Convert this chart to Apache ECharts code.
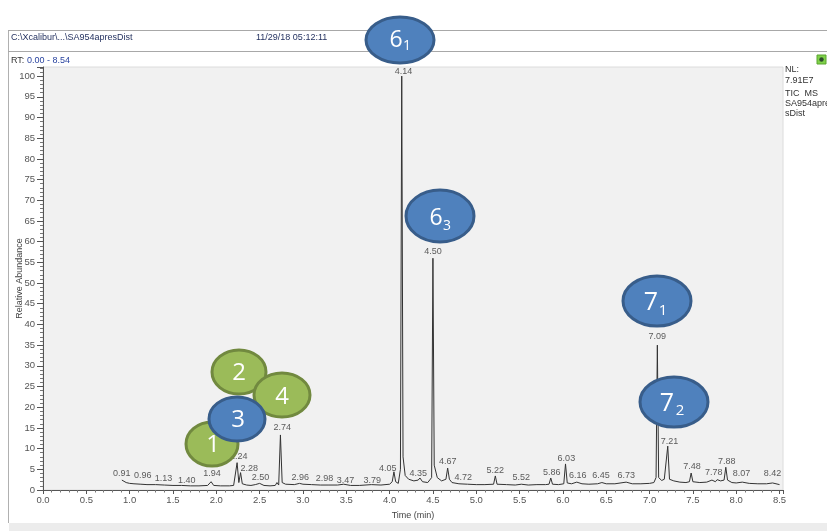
<!DOCTYPE html>
<html>
<head>
<meta charset="utf-8">
<script src="https://cdn.jsdelivr.net/npm/echarts@6/dist/echarts.min.js"></script>
<style>
html,body{margin:0;padding:0;background:#fff;}
#c{width:827px;height:531px;}
</style>
</head>
<body>
<div id="c"></div>
<script>
// Chromatogram trace (time in min, relative abundance %)
var traceTime = [0.91,0.93,0.96,1.00,1.05,1.13,1.20,1.30,1.40,1.50,1.60,1.70,1.80,1.90,1.94,1.97,2.05,2.15,2.20,2.22,2.24,2.26,2.28,2.30,2.35,2.40,2.45,2.50,2.55,2.62,2.68,2.70,2.72,2.74,2.76,2.80,2.90,2.96,3.00,3.10,3.20,3.30,3.40,3.47,3.55,3.65,3.79,3.90,4.00,4.03,4.05,4.07,4.10,4.125,4.14,4.155,4.18,4.22,4.28,4.33,4.35,4.38,4.44,4.485,4.50,4.515,4.55,4.60,4.65,4.67,4.69,4.72,4.80,4.90,5.00,5.10,5.20,5.22,5.24,5.35,5.45,5.52,5.60,5.70,5.80,5.84,5.86,5.88,5.95,6.01,6.03,6.05,6.10,6.16,6.22,6.30,6.40,6.45,6.50,6.60,6.73,6.80,6.90,7.00,7.05,7.075,7.09,7.105,7.14,7.17,7.19,7.21,7.23,7.28,7.35,7.42,7.46,7.48,7.50,7.58,7.66,7.72,7.76,7.78,7.82,7.86,7.88,7.90,7.95,8.00,8.07,8.15,8.25,8.35,8.42,8.50];
var traceAbund = [2.4,2.0,1.8,1.6,1.5,1.4,1.3,1.3,1.2,1.1,1.1,1.0,1.0,1.1,2.0,1.1,1.0,1.0,1.1,1.3,6.6,1.8,4.2,1.5,1.2,1.1,1.3,1.6,1.1,1.0,1.1,1.8,1.2,13.3,1.8,1.4,1.3,1.6,1.4,1.3,1.2,1.2,1.2,1.4,1.1,1.1,1.3,1.2,1.4,2.0,4.4,2.0,1.6,5.0,100,8.0,3.5,2.6,2.2,2.4,2.9,2.0,1.8,3.0,56,6.0,3.0,2.2,2.6,5.3,2.6,1.8,1.5,1.4,1.3,1.3,1.4,3.4,1.4,1.3,1.2,1.4,1.2,1.3,1.3,1.4,2.9,1.4,1.3,1.5,6.3,1.7,1.5,1.9,1.5,1.4,1.5,1.8,1.5,1.5,1.9,1.5,1.5,1.6,1.8,3.0,35,3.0,2.3,2.6,3.0,10.6,2.6,2.2,1.9,1.8,2.0,4.1,2.0,1.8,1.9,2.4,2.0,2.5,2.2,2.4,5.5,2.4,1.8,1.7,1.9,1.6,1.5,1.5,1.7,1.3];

// Peak retention-time labels and where each label sits (data coords)
var peakLabels = ['0.91','0.96','1.13','1.40','1.94','2.24','2.28','2.50','2.74','2.96','2.98','3.47','3.79','4.05','4.14','4.35','4.50','4.67','4.72','5.22','5.52','5.86','6.03','6.16','6.45','6.73','7.09','7.21','7.48','7.78','7.88','8.07','8.42'];
var labelTime  = [0.91,1.15,1.39,1.66,1.95,2.26,2.38,2.51,2.76,2.97,3.25,3.49,3.80,3.98,4.16,4.33,4.50,4.67,4.85,5.22,5.52,5.87,6.04,6.17,6.44,6.73,7.09,7.23,7.49,7.74,7.89,8.06,8.42];
var labelAbund = [4.1,3.4,2.7,2.4,3.9,8.0,5.1,2.9,15.2,2.9,2.7,2.4,2.2,5.3,101,4.1,57.7,6.8,2.9,4.8,3.1,4.3,7.7,3.6,3.6,3.6,37,11.6,5.6,4.3,7.0,3.9,3.9];

var traceData = traceTime.map(function(t,i){return [t, traceAbund[i]];});
var labelData = peakLabels.map(function(n,i){return {name:n, value:[labelTime[i], labelAbund[i]]};});

var chart = echarts.init(document.getElementById('c'), null, {renderer:'canvas'});

var FONT = 'Liberation Sans, Arial, sans-serif';
var blueFill = '#4F81BD', blueStroke = '#385D8A';
var greenFill = '#9BBB59', greenStroke = '#71893F';

function bubble(cx, cy, rx, ry, fill, stroke, main, sub, mx, my, sx, sy, fs, ss) {
  var els = [{
    type:'ellipse', z:100,
    shape:{cx:cx, cy:cy, rx:rx, ry:ry},
    style:{fill:fill, stroke:stroke, lineWidth:3}
  },{
    type:'text', z:101, x:mx, y:my,
    style:{text:main, fill:'#fff', font:fs+'px "Open Sans", sans-serif', textAlign:'center', textVerticalAlign:'middle'}
  }];
  if (sub) els.push({
    type:'text', z:101, x:sx, y:sy,
    style:{text:sub, fill:'#fff', font:ss+'px "Open Sans", sans-serif', textAlign:'center', textVerticalAlign:'middle'}
  });
  return els;
}

var graphics = [
  {type:'line', shape:{x1:8.5,y1:30,x2:8.5,y2:523}, style:{stroke:'#b0b0b0', lineWidth:1}},
  {type:'line', shape:{x1:8,y1:30.5,x2:827,y2:30.5}, style:{stroke:'#a8a8a8', lineWidth:1}},
  {type:'line', shape:{x1:8,y1:51.5,x2:827,y2:51.5}, style:{stroke:'#a8a8a8', lineWidth:1}},
  {type:'rect', shape:{x:9,y:523,width:818,height:8}, style:{fill:'#ececec'}},
  {type:'text', x:11, y:38, style:{text:'C:\\Xcalibur\\...\\SA954apresDist', fill:'#1f2d5c', font:'9px '+FONT, textVerticalAlign:'middle'}},
  {type:'text', x:256, y:38, style:{text:'11/29/18 05:12:11', fill:'#1f2d5c', font:'9px '+FONT, textVerticalAlign:'middle'}},
  {type:'text', x:11, y:61, style:{text:'RT:', fill:'#333', font:'9px '+FONT, textVerticalAlign:'middle'}},
  {type:'text', x:27, y:61, style:{text:'0.00 - 8.54', fill:'#2a44a0', font:'9px '+FONT, textVerticalAlign:'middle'}},
  {type:'text', x:785, y:70, style:{text:'NL:', fill:'#333', font:'9px '+FONT, textVerticalAlign:'middle'}},
  {type:'text', x:785, y:81, style:{text:'7.91E7', fill:'#333', font:'9px '+FONT, textVerticalAlign:'middle'}},
  {type:'text', x:785, y:94, style:{text:'TIC  MS', fill:'#333', font:'9px '+FONT, textVerticalAlign:'middle'}},
  {type:'text', x:785, y:104, style:{text:'SA954apre', fill:'#333', font:'9px '+FONT, textVerticalAlign:'middle'}},
  {type:'text', x:785, y:114, style:{text:'sDist', fill:'#333', font:'9px '+FONT, textVerticalAlign:'middle'}},
  {type:'rect', shape:{x:817,y:55,width:9,height:9}, style:{fill:'#7fd14a', stroke:'#5aa52e', lineWidth:1}},
  {type:'circle', shape:{cx:821.5,cy:59.5,r:2.2}, style:{fill:'#2d4a2d'}}
];

graphics = graphics
  .concat(bubble(400,40,34,23,blueFill,blueStroke,'6','1',396,40,407,46,23,14))
  .concat(bubble(440,216,34,26,blueFill,blueStroke,'6','3',436,218,447,226,23,14))
  .concat(bubble(657,301,34,25,blueFill,blueStroke,'7','1',651,303,663,311,25,15))
  .concat(bubble(674,402,34,25,blueFill,blueStroke,'7','2',667,404,680,411,25,15))
  .concat(bubble(239,372,27,22,greenFill,greenStroke,'2',null,239,373,0,0,24,0))
  .concat(bubble(282,395,28,22,greenFill,greenStroke,'4',null,282,397,0,0,24,0))
  .concat(bubble(212,444,26,22,greenFill,greenStroke,'1',null,213,445,0,0,24,0))
  .concat(bubble(237,419,28,22,blueFill,blueStroke,'3',null,238,420,0,0,24,0));

var option = {
  animation:false,
  backgroundColor:'#fff',
  grid:{left:43, right:44, top:67, bottom:41, containLabel:false, outerBoundsMode:'none',
        show:true, backgroundColor:'#f1f1f1', borderColor:'#dcdcdc', borderWidth:1},
  xAxis:{
    type:'value', min:0, max:8.54, interval:0.5,
    name:'Time (min)', nameLocation:'middle', nameGap:21, nameMoveOverlap:false,
    nameTextStyle:{fontFamily:FONT, fontSize:9, color:'#444'},
    axisLine:{show:true, onZero:false, lineStyle:{color:'#555', width:1}},
    axisTick:{show:true, length:4, lineStyle:{color:'#555'}},
    minorTick:{show:true, splitNumber:5, length:2.5, lineStyle:{color:'#777'}},
    splitLine:{show:false},
    axisLabel:{fontFamily:FONT, fontSize:9.5, color:'#555', margin:5, showMaxLabel:false,
      formatter:function(v){ return Math.abs(v*2-Math.round(v*2))<1e-6 ? v.toFixed(1) : ''; }}
  },
  yAxis:{
    type:'value', min:0, max:102.2, interval:5,
    name:'Relative Abundance', nameLocation:'middle', nameGap:19, nameRotate:90, nameMoveOverlap:false,
    nameTextStyle:{fontFamily:FONT, fontSize:9, color:'#444'},
    axisLine:{show:true, lineStyle:{color:'#555', width:1}},
    axisTick:{show:true, length:6, lineStyle:{color:'#555'}},
    minorTick:{show:true, splitNumber:5, length:3, lineStyle:{color:'#777'}},
    splitLine:{show:false},
    axisLabel:{fontFamily:FONT, fontSize:9.5, color:'#555', margin:8, showMaxLabel:false,
      formatter:function(v){ return (Math.abs(v-Math.round(v))<1e-6 && Math.round(v)%5===0) ? String(Math.round(v)) : ''; }}
  },
  series:[{
    type:'line', data:traceData, showSymbol:false, symbol:'none',
    lineStyle:{color:'#333', width:1}, z:3
  },{
    type:'scatter', data:labelData, symbolSize:0, z:4,
    label:{show:true, position:'inside', formatter:'{b}', fontFamily:FONT, fontSize:9, color:'#333'}
  }],
  graphic:graphics
};
chart.setOption(option);
</script>
</body>
</html>
